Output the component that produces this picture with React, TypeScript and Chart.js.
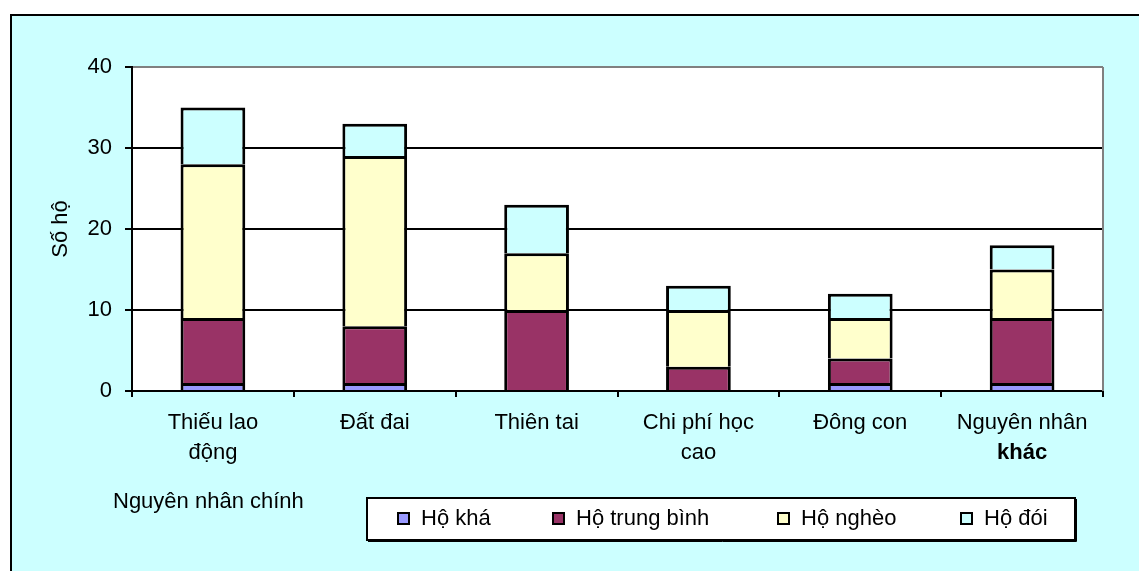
import { useEffect, useRef } from "react";
import { Chart, registerables } from "chart.js";

Chart.register(...registerables);

// ---- data ----
const categories: string[][] = [
  ["Thiếu lao", "động"],
  ["Đất đai"],
  ["Thiên tai"],
  ["Chi phí học", "cao"],
  ["Đông con"],
  ["Nguyên nhân", "khác"],
];
const hoKha = [1, 1, 0, 0, 1, 1];
const hoTrungBinh = [8, 7, 10, 3, 3, 8];
const hoNgheo = [19, 21, 7, 7, 5, 6];
const hoDoi = [7, 4, 6, 3, 3, 3];
const seriesNames = ["Hộ khá", "Hộ trung bình", "Hộ nghèo", "Hộ đói"];
const yTicks = [0, 10, 20, 30, 40];
const yTitle = "Số hộ";
const xTitle = "Nguyên nhân chính";
const boldLabelIndex = 5; // second line of this category label is bold in the source

// ---- styles ----
const seriesColors = ["#9999FF", "#993366", "#FFFFCC", "#CCFFFF"];
const FONT_FAMILY = "'Liberation Sans', Arial, Helvetica, sans-serif";
const FONT_SIZE = 22;
const LINE_H = 30;
const legendItemX = [397, 552, 777, 960];

const framePlugin = {
  id: "framePlugin",
  beforeDraw(chart: any) {
    const { ctx, width, height, chartArea: a } = chart;
    ctx.save();
    ctx.fillStyle = "#ffffff";
    ctx.fillRect(0, 0, width, height);
    ctx.fillStyle = "#CCFFFF";
    ctx.fillRect(10, 15, width - 10, height - 15);
    ctx.strokeStyle = "#000";
    ctx.lineWidth = 2;
    ctx.beginPath();
    ctx.moveTo(11, height);
    ctx.lineTo(11, 15);
    ctx.lineTo(width, 15);
    ctx.stroke();
    ctx.fillStyle = "#ffffff";
    ctx.fillRect(a.left, a.top, a.right - a.left, a.bottom - a.top);
    ctx.restore();
  },
  beforeDatasetsDraw(chart: any) {
    const { ctx, chartArea: a } = chart;
    ctx.save();
    ctx.strokeStyle = "#808080";
    ctx.lineWidth = 2;
    ctx.beginPath();
    ctx.moveTo(a.right, a.top);
    ctx.lineTo(a.right, a.bottom);
    ctx.stroke();
    ctx.restore();
  },
  afterDraw(chart: any) {
    const { ctx } = chart;
    ctx.save();
    ctx.font = `${FONT_SIZE}px ${FONT_FAMILY}`;
    ctx.fillStyle = "#000";
    ctx.textBaseline = "middle";
    ctx.textAlign = "left";
    ctx.fillText(xTitle, 113, 502);

    // bold second line of the last category label
    const xs = chart.scales.x;
    const lbl = chart.data.labels[boldLabelIndex] as string[];
    if (lbl && lbl.length > 1) {
      const px = xs.getPixelForTick(boldLabelIndex);
      const y0 = xs.top + 6 + 11 + LINE_H / 2;
      ctx.textAlign = "center";
      ctx.font = `bold ${FONT_SIZE}px ${FONT_FAMILY}`;
      ctx.fillText(lbl[1], px, y0 + LINE_H);
      ctx.font = `${FONT_SIZE}px ${FONT_FAMILY}`;
      ctx.textAlign = "left";
    }

    // legend box
    ctx.fillStyle = "#ffffff";
    ctx.fillRect(367, 498, 708, 42);
    ctx.strokeStyle = "#000";
    ctx.lineWidth = 2;
    ctx.strokeRect(367, 498, 708, 42);
    ctx.lineWidth = 1;
    ctx.beginPath();
    ctx.moveTo(368, 541.5);
    ctx.lineTo(1076.5, 541.5);
    ctx.lineTo(1076.5, 499);
    ctx.stroke();

    chart.data.datasets.forEach((ds: any, i: number) => {
      const x = legendItemX[i];
      ctx.fillStyle = ds.backgroundColor;
      ctx.fillRect(x, 512, 13, 13);
      ctx.strokeStyle = "#000";
      ctx.lineWidth = 2;
      ctx.strokeRect(x + 1, 513, 11, 11);
      ctx.fillStyle = "#000";
      ctx.fillText(ds.label, x + 24, 519);
    });
    ctx.restore();
  },
};

export default function App() {
  const ref = useRef<HTMLCanvasElement>(null);
  useEffect(() => {
    const canvas = ref.current!;
    const seriesValues = [hoKha, hoTrungBinh, hoNgheo, hoDoi];
    const font = { family: FONT_FAMILY, size: FONT_SIZE };
    const chart = new Chart(canvas, {
      type: "bar",
      data: {
        labels: categories as any,
        datasets: seriesNames.map((name, i) => ({
          label: name,
          data: seriesValues[i],
          backgroundColor: seriesColors[i],
          borderColor: "#000",
          borderWidth: { top: 3, left: 3, right: 3, bottom: 0 },
          borderSkipped: false,
          inflateAmount: 0,
          barPercentage: 0.4,
          categoryPercentage: 1,
        })),
      },
      options: {
        responsive: false,
        animation: false,
        devicePixelRatio: 1,
        layout: { padding: { left: 0, top: 67, right: 36, bottom: 0 } },
        plugins: {
          legend: { display: false },
          tooltip: { enabled: false },
        },
        scales: {
          x: {
            stacked: true,
            grid: {
              display: true,
              drawOnChartArea: false,
              drawTicks: true,
              tickLength: 6,
              offset: true,
              color: "#000",
              lineWidth: 2,
            },
            border: { display: true, color: "#000", width: 2 },
            ticks: {
              color: "#000",
              font: { family: FONT_FAMILY, size: FONT_SIZE, lineHeight: LINE_H / FONT_SIZE },
              padding: 11,
              maxRotation: 0,
              autoSkip: false,
              callback: function (this: any, _v: any, index: number) {
                const l = categories[index];
                return index === boldLabelIndex ? [l[0], ""] : l;
              },
            },
            afterFit: (s: any) => {
              s.height = 180;
            },
          },
          y: {
            stacked: true,
            min: 0,
            max: 40,
            afterBuildTicks: (s: any) => {
              s.ticks = yTicks.map((v) => ({ value: v }));
            },
            grid: {
              color: (c: any) => (c.tick && c.tick.value === 40 ? "#808080" : "#000"),
              lineWidth: 2,
              tickLength: 7,
              tickColor: "#000",
            },
            border: { color: "#000", width: 2 },
            ticks: { color: "#000", font, padding: 13 },
            title: {
              display: true,
              text: yTitle,
              color: "#000",
              font,
              padding: { top: 48, bottom: 0 },
            },
            afterFit: (s: any) => {
              s.width = 132;
            },
          },
        },
      },
      plugins: [framePlugin],
    });
    return () => chart.destroy();
  }, []);
  return (
    <div style={{ position: "fixed", left: 0, top: 0, width: 1139, height: 571 }}>
      <canvas ref={ref} width={1139} height={571} style={{ display: "block" }} />
    </div>
  );
}
